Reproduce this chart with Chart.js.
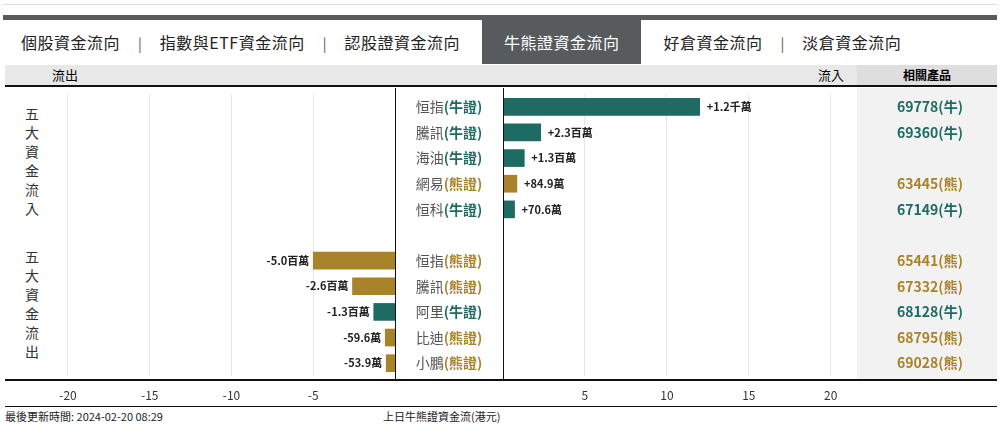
<!DOCTYPE html>
<html><head><meta charset="utf-8">
<script src="https://cdn.jsdelivr.net/npm/chart.js@4"></script>
<style>
body{margin:0;width:1000px;height:436px;background:#fff;font-family:"Noto Sans CJK TC","Noto Sans",sans-serif;position:relative;overflow:hidden}
.abs{position:absolute}
.tabs{left:3px;width:994px;height:44px;border-top:5px solid #575b5e;top:15px;white-space:nowrap}
.tab{display:inline-block;font-size:16px;color:#222;line-height:44px;padding:0 18px;letter-spacing:0.5px}
.sep{display:inline-block;color:#555;font-size:14px}
.tab.on{background:#575b5e;color:#fff;padding:0 22px;margin:0 4px}
.hdr{left:5px;top:65px;width:992px;height:20px;background:#e8e8e8;border-bottom:2px solid #111;font-size:13px;line-height:20px}
.vt{font-size:14px;color:#333;line-height:19px;width:16px;text-align:center}
</style></head><body>
<div class="abs" style="left:3px;top:4px;width:994px;border-top:1px solid #ddd"></div>
<div class="abs tabs">
 <span class="tab">個股資金流向</span><span class="sep">|</span><span class="tab">指數與ETF資金流向</span><span class="sep">|</span><span class="tab">認股證資金流向</span><span class="tab on">牛熊證資金流向</span><span class="tab">好倉資金流向</span><span class="sep">|</span><span class="tab">淡倉資金流向</span>
</div>
<div class="abs hdr">
 <span class="abs" style="left:47px">流出</span>
 <span class="abs" style="left:813px">流入</span>
 <span class="abs" style="left:852px;width:140px;background:#dedede;text-align:center;font-weight:bold;font-size:12px">相關產品</span>
</div>
<div class="abs vt" style="left:24px;top:104px">五<br>大<br>資<br>金<br>流<br>入</div>
<div class="abs vt" style="left:24px;top:247px">五<br>大<br>資<br>金<br>流<br>出</div>
<div class="abs" style="left:5px;top:88px;width:390px;height:318px"><canvas id="left"></canvas></div>
<div class="abs" style="left:395px;top:88px;width:605px;height:318px"><canvas id="right"></canvas></div>
<div class="abs" style="left:5px;top:379px;width:992px;border-top:2px solid #111"></div>
<div class="abs" style="left:5px;top:406px;width:992px;border-top:1px solid #111"></div>
<div class="abs" style="left:5px;top:408px;font-size:11px;color:#222">最後更新時間: 2024-02-20 08:29</div>
<div class="abs" style="left:383px;top:408px;font-size:11px;color:#222">上日牛熊證資金流(港元)</div>
<script>
// inflow group (millions HKD)
const inNames = ['恒指', '騰訊', '海油', '網易', '恒科'];
const inTypes = ['牛證', '牛證', '牛證', '熊證', '牛證'];
const inValues = [12, 2.3, 1.3, 0.849, 0.706];
const inText = ['+1.2千萬', '+2.3百萬', '+1.3百萬', '+84.9萬', '+70.6萬'];
const inProducts = ['69778(牛)', '69360(牛)', '', '63445(熊)', '67149(牛)'];
// outflow group
const outNames = ['恒指', '騰訊', '阿里', '比迪', '小鵬'];
const outTypes = ['熊證', '熊證', '牛證', '熊證', '熊證'];
const outValues = [-5.0, -2.6, -1.3, -0.596, -0.539];
const outText = ['-5.0百萬', '-2.6百萬', '-1.3百萬', '-59.6萬', '-53.9萬'];
const outProducts = ['65441(熊)', '67332(熊)', '68128(牛)', '68795(熊)', '69028(熊)'];
const xTicks = [-20, -15, -10, -5, 5, 10, 15, 20];

const GREEN = '#1e6b63', GOLD = '#a8832a';
const typeColor = t => t === '牛證' ? GREEN : GOLD;

// rows: 5 inflow, blank spacer, 5 outflow
const rows = [...inNames, '', ...outNames];
const types = [...inTypes, '', ...outTypes];
const texts = [...inText, '', ...outText];
const products = [...inProducts, '', ...outProducts];
const rightData = [...inValues, null, null, null, null, null, null];
const leftData = [null, null, null, null, null, null, ...outValues];
const colors = types.map(t => typeColor(t));
const FONT = '"Noto Sans CJK TC","Noto Sans",sans-serif';

function xScale(min, max) {
  return {
    min, max, grid: { color: '#e6e6e6', drawTicks: false }, border: { display: false },
    afterBuildTicks: s => { s.ticks = xTicks.filter(v => v >= min && v <= max).map(v => ({ value: v })); },
    ticks: { color: '#333', font: { family: FONT, size: 12 }, padding: 12, maxRotation: 0 },
    afterFit: s => { s.height = 30; }
  };
}
const yScale = { display: false, grid: { display: false } };

const valueLabels = {
  id: 'valueLabels',
  afterDatasetsDraw(chart) {
    const ctx = chart.ctx, meta = chart.getDatasetMeta(0);
    ctx.save();
    ctx.font = 'bold 11px ' + FONT;
    ctx.fillStyle = '#222';
    ctx.textBaseline = 'middle';
    meta.data.forEach((bar, i) => {
      const v = chart.data.datasets[0].data[i];
      if (v == null) return;
      if (v > 0) { ctx.textAlign = 'left'; ctx.fillText(texts[i], bar.x + 7, bar.y); }
      else { ctx.textAlign = 'right'; ctx.fillText(texts[i], bar.x - 4, bar.y); }
    });
    ctx.restore();
  }
};

const sideInfo = {
  id: 'sideInfo',
  beforeDraw(chart) {
    const ctx = chart.ctx, a = chart.chartArea;
    ctx.save();
    ctx.fillStyle = '#f2f2f2';
    ctx.fillRect(a.right, 0, 140, 292);
    ctx.restore();
  },
  afterDraw(chart) {
    const ctx = chart.ctx, a = chart.chartArea, y = chart.scales.y;
    ctx.save();
    ctx.strokeStyle = '#111'; ctx.lineWidth = 1;
    ctx.beginPath();
    ctx.moveTo(0.5, 0); ctx.lineTo(0.5, 292);
    ctx.moveTo(a.left + 0.5, 0); ctx.lineTo(a.left + 0.5, 292);
    ctx.stroke();
    ctx.textBaseline = 'middle';
    rows.forEach((name, i) => {
      if (!name) return;
      const py = y.getPixelForValue(i);
      ctx.font = '14px ' + FONT;
      const w1 = ctx.measureText(name).width;
      ctx.font = 'bold 14px ' + FONT;
      const tag = '(' + types[i] + ')';
      const w2 = ctx.measureText(tag).width;
      const x0 = a.left / 2 - (w1 + w2) / 2;
      ctx.textAlign = 'left';
      ctx.font = '14px ' + FONT; ctx.fillStyle = '#555';
      ctx.fillText(name, x0, py);
      ctx.font = 'bold 14px ' + FONT; ctx.fillStyle = typeColor(types[i]);
      ctx.fillText(tag, x0 + w1, py);
      if (products[i]) {
        ctx.textAlign = 'center';
        ctx.font = 'bold 14px ' + FONT;
        ctx.fillStyle = products[i].includes('牛') ? GREEN : GOLD;
        ctx.fillText(products[i], a.right + 73, py);
      }
    });
    ctx.restore();
  }
};

const common = (data, min, max, pad, plugins) => ({
  type: 'bar',
  data: { labels: rows, datasets: [{ data, backgroundColor: colors, barThickness: 17, borderWidth: 0 }] },
  options: {
    indexAxis: 'y', responsive: true, maintainAspectRatio: false, animation: false,
    layout: { padding: pad },
    plugins: { legend: { display: false }, tooltip: { enabled: false } },
    scales: { x: xScale(min, max), y: yScale }
  },
  plugins
});

new Chart(document.getElementById('left'), common(leftData, -23.85, 0, { top: 6, left: 0, right: 0, bottom: 0 }, [valueLabels]));
new Chart(document.getElementById('right'), common(rightData, 0, 21.6, { top: 6, left: 108, right: 143, bottom: 0 }, [valueLabels, sideInfo]));
</script>
</body></html>
